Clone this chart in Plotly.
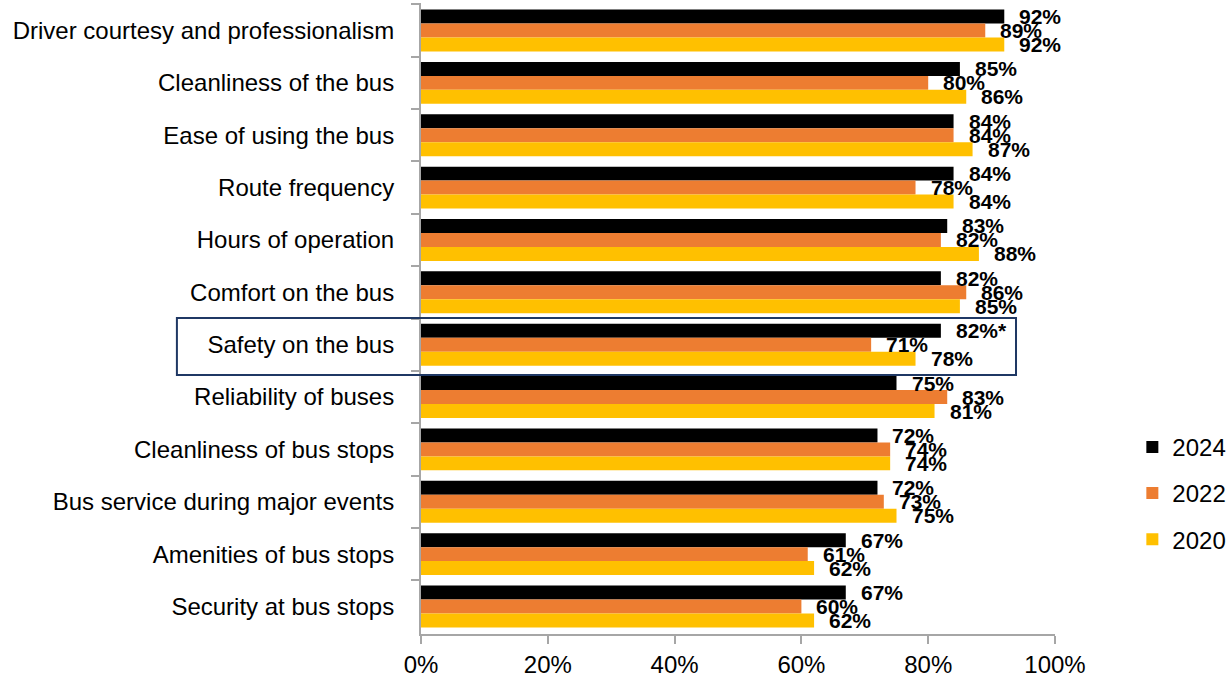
import plotly.graph_objects as go

categories = [
    "Driver courtesy and professionalism",
    "Cleanliness of the bus",
    "Ease of using the bus",
    "Route frequency",
    "Hours of operation",
    "Comfort on the bus",
    "Safety on the bus",
    "Reliability of buses",
    "Cleanliness of bus stops",
    "Bus service during major events",
    "Amenities of bus stops",
    "Security at bus stops",
]
years = ["2024", "2022", "2020"]
values_2024 = [92, 85, 84, 84, 83, 82, 82, 75, 72, 72, 67, 67]
values_2022 = [89, 80, 84, 78, 82, 86, 71, 83, 74, 73, 61, 60]
values_2020 = [92, 86, 87, 84, 88, 85, 78, 81, 74, 75, 62, 62]
label_suffix_2024 = ["", "", "", "", "", "", "*", "", "", "", "", ""]
x_ticks = [0, 20, 40, 60, 80, 100]

colors = {"2024": "#000000", "2022": "#ED7D31", "2020": "#FFC000"}
series = {"2024": values_2024, "2022": values_2022, "2020": values_2020}

BASE_FONT = "Liberation Sans, Arial, sans-serif"
LABEL_FONT = "Liberation Sans, Arial, sans-serif"

fig = go.Figure()
for yr in years:
    fig.add_trace(go.Bar(
        name=yr,
        y=categories,
        x=[v / 100 for v in series[yr]],
        orientation="h",
        marker=dict(color=colors[yr], line=dict(width=0)),
        legendgroup=yr,
        hoverinfo="skip",
    ))

# value labels beside each bar, shifted to the row of their series
shifts = {"2024": 14, "2022": 0, "2020": -14}
for yr in years:
    for j, cat in enumerate(categories):
        v = series[yr][j]
        suffix = label_suffix_2024[j] if yr == "2024" else ""
        fig.add_annotation(
            x=v / 100, y=cat, xref="x", yref="y",
            text=f"{v}%{suffix}",
            showarrow=False, xanchor="left", yanchor="middle",
            xshift=13, yshift=shifts[yr],
            font=dict(family=LABEL_FONT, size=21, color="#000000", weight="bold"),
        )

# frame around the highlighted row
safety_idx = categories.index("Safety on the bus")
fig.add_shape(
    type="rect", xref="paper", yref="y",
    x0=-0.385, x1=0.9385, y0=safety_idx - 0.51, y1=safety_idx + 0.58,
    line=dict(color="#1F3864", width=2), fillcolor="rgba(0,0,0,0)",
)

fig.update_layout(
    width=1228, height=678,
    margin=dict(l=421, r=173, t=3, b=44, autoexpand=False),
    barmode="group", bargap=0.2, bargroupgap=0,
    plot_bgcolor="white", paper_bgcolor="white",
    font=dict(family=BASE_FONT, size=24, color="#000000"),
    showlegend=True,
    legend=dict(
        x=1.122, y=0.223, xanchor="left", yanchor="middle",
        font=dict(size=24, family=BASE_FONT),
        tracegroupgap=12, traceorder="grouped",
        bgcolor="rgba(0,0,0,0)",
    ),
)
fig.update_xaxes(
    range=[0, 1], tickvals=[t / 100 for t in x_ticks],
    ticktext=[f"{t}%" for t in x_ticks],
    showgrid=False, zeroline=False,
    showline=True, linecolor="#A6A6A6", linewidth=2,
    ticks="outside", ticklen=8, tickcolor="#A6A6A6", tickwidth=2,
    tickfont=dict(size=24),
)
fig.update_yaxes(
    autorange="reversed", showgrid=False, zeroline=False,
    showline=True, linecolor="#A6A6A6", linewidth=2,
    ticks="outside", ticklen=8, tickcolor="#A6A6A6", tickwidth=2,
    tickson="boundaries", ticklabelstandoff=20,
    tickfont=dict(size=24),
)

fig.write_html("out.html")
